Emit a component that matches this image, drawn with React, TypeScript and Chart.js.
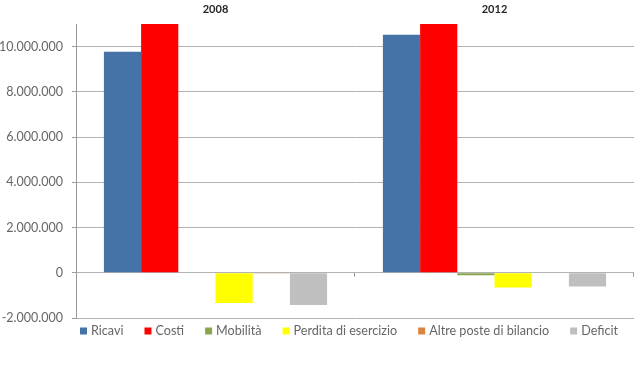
import React, { useEffect, useRef } from "react";
import { Chart, registerables } from "chart.js";

Chart.register(...registerables);

const categories = ["2008", "2012"];
const seriesNames = ["Ricavi", "Costi", "Mobilità", "Perdita di esercizio", "Altre poste di bilancio", "Deficit"];
const ricavi = [9770000, 10530000];
const costi = [11500000, 11400000];
const mobilita = [0, -110000];
const perdita = [-1340000, -650000];
const altre = [-35000, 20000];
const deficit = [-1420000, -610000];
const seriesColors = ["#4572A7", "#FF0000", "#89A54E", "#FFFF00", "#DB843D", "#BFBFBF"];
const yTicks = [-2000000, 0, 2000000, 4000000, 6000000, 8000000, 10000000];
const yMin = -2000000;
const yMax = 11000000;

const FONT = "Lato, 'DejaVu Sans', sans-serif";

function fmt(v: number): string {
  const neg = v < 0;
  const s = Math.abs(Math.round(v)).toString().replace(/\B(?=(\d{3})+(?!\d))/g, ".");
  return (neg ? "-" : "") + s;
}

const boundaryTicks = {
  id: "boundaryTicks",
  afterDatasetsDraw(chart: any) {
    const { ctx, chartArea, scales } = chart;
    const y0 = scales.y.getPixelForValue(0);
    const n = chart.data.labels.length;
    const w = (chartArea.right - chartArea.left) / n;
    ctx.save();
    ctx.strokeStyle = "#9a9a9a";
    ctx.lineWidth = 1;
    for (let i = 1; i <= n; i++) {
      const x = Math.round(chartArea.left + i * w) - 0.5;
      ctx.beginPath();
      ctx.moveTo(x, y0);
      ctx.lineTo(x, y0 + 4);
      ctx.stroke();
    }
    ctx.restore();
  },
};

const customLegend = {
  id: "customLegend",
  afterDraw(chart: any) {
    const { ctx, chartArea } = chart;
    ctx.save();
    ctx.font = "12.6px " + FONT;
    ctx.textBaseline = "middle";
    ctx.textAlign = "left";
    let x = chartArea.left + 4;
    const yc = chartArea.bottom + 13;
    chart.data.datasets.forEach((ds: any) => {
      ctx.fillStyle = ds.backgroundColor;
      ctx.fillRect(x, yc - 3.5, 7, 7);
      x += 11;
      ctx.fillStyle = "#666666";
      ctx.fillText(ds.label, x, yc);
      x += ctx.measureText(ds.label).width + 21;
    });
    ctx.restore();
  },
};

export default function App() {
  const ref = useRef<HTMLCanvasElement>(null);
  useEffect(() => {
    if (!ref.current) return;
    const values = [ricavi, costi, mobilita, perdita, altre, deficit];
    const chart = new Chart(ref.current, {
      type: "bar",
      data: {
        labels: categories,
        datasets: seriesNames.map((name, i) => ({
          label: name,
          data: values[i],
          backgroundColor: seriesColors[i],
          borderWidth: 0,
          categoryPercentage: 0.8,
          barPercentage: 1,
        })),
      },
      options: {
        animation: false,
        responsive: true,
        maintainAspectRatio: false,
        layout: { padding: { left: 0, right: 6, top: 0, bottom: 47 } },
        plugins: { legend: { display: false }, tooltip: { enabled: false } },
        scales: {
          x: {
            type: "category",
            position: "top",
            offset: true,
            grid: { display: false, drawTicks: false },
            border: { display: false },
            ticks: { padding: 8, color: "#262626", font: { family: FONT, size: 11, weight: "bold" } },
            afterFit: (s: any) => { s.height = 24; },
          },
          y: {
            min: yMin,
            max: yMax,
            ticks: {
              padding: 9,
              color: "#666666",
              autoSkip: false,
              font: { family: FONT, size: 12.5 },
              callback: (v: any) => fmt(Number(v)),
            },
            afterBuildTicks: (s: any) => { s.ticks = yTicks.map((v) => ({ value: v })); },
            afterFit: (s: any) => { s.width = 76; },
            grid: { color: "#b3b3b3", tickLength: 4, tickColor: "#9a9a9a" },
            border: { display: true, color: "#9a9a9a" },
          },
        },
      },
      plugins: [boundaryTicks, customLegend],
    });
    return () => chart.destroy();
  }, []);
  return (
    <div style={{ position: "absolute", left: 0, top: 0, width: 640, height: 365, background: "#fff" }}>
      <canvas ref={ref} />
    </div>
  );
}
